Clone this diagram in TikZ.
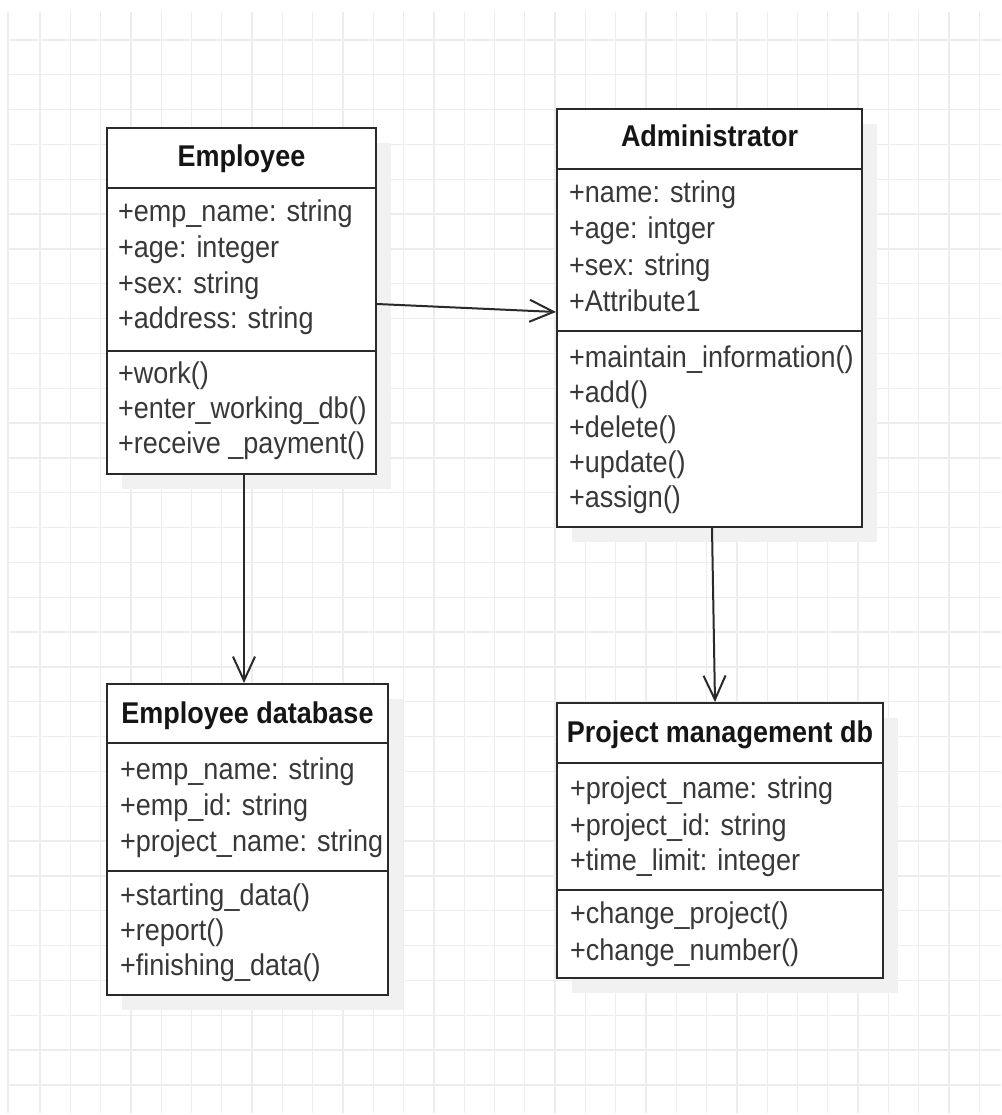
\documentclass[tikz,border=0pt]{standalone}
\usepackage{fontspec}
\setmainfont[FakeStretch=0.9]{Liberation Sans}
\usetikzlibrary{arrows.meta}
\definecolor{linec}{HTML}{2A2A2A}
\definecolor{textc}{HTML}{383838}
\definecolor{titlec}{HTML}{151515}
\definecolor{gridc}{HTML}{EDEDED}
\definecolor{shadc}{HTML}{F1F1F1}
\tikzset{
  classbox/.style={draw=linec, line width=2pt, fill=white, rectangle, inner sep=0pt},
  sepline/.style={draw=linec, line width=2pt},
  attr/.style={anchor=base west, inner sep=0pt, text=textc, font=\fontsize{30pt}{36pt}\selectfont},
  ctitle/.style={anchor=base, inner sep=0pt, text=titlec, font=\fontsize{30pt}{36pt}\selectfont\bfseries},
  gridline/.style={draw=gridc, line width=1.3pt},
  shadow/.style={fill=shadc},
  arr/.style={draw=linec, line width=2pt, -{Straight Barb[length=24pt,width=22pt,line width=2pt]}}
}
\begin{document}
\begin{tikzpicture}[x=1pt,y=-1pt]
\useasboundingbox (0,0) rectangle (1001,1115);
\fill[white] (0,0) rectangle (1001,1115);
% grid
\foreach \k in {0,...,31} {\draw[gridline] ({40+30.3*\k},12) -- ({40+30.3*\k},1113);}
\draw[gridline] (8,12) -- (8,1113);
\foreach \k in {0,...,30} {\draw[gridline] (8,{40+34.83*\k}) -- (1001,{40+34.83*\k});}
% shadows
\fill[shadow] (122,143) rectangle (391,489);
\fill[shadow] (572,124) rectangle (877,542);
\fill[shadow] (122,699) rectangle (403,1010);
\fill[shadow] (572,718) rectangle (898,993);

% Employee
\node[classbox, minimum width=269pt, minimum height=346pt] (emp) at (241.5,301) {};
\draw[sepline] (emp.west |- 0,188) -- (emp.east |- 0,188);
\draw[sepline] (emp.west |- 0,351) -- (emp.east |- 0,351);
\node[ctitle] (empT) at (241.5,167) {Employee};
\node[attr] (empA1) at (118,222) {+emp\_name: string};
\node[attr] (empA2) at (118,257) {+age: integer};
\node[attr] (empA3) at (118,293) {+sex: string};
\node[attr] (empA4) at (118,328) {+address: string};
\node[attr] (empM1) at (118,383) {+work()};
\node[attr] (empM2) at (118,418) {+enter\_working\_db()};
\node[attr] (empM3) at (118,453) {+receive \_payment()};

% Administrator
\node[classbox, minimum width=305pt, minimum height=418pt] (adm) at (709.5,318) {};
\draw[sepline] (adm.west |- 0,169) -- (adm.east |- 0,169);
\draw[sepline] (adm.west |- 0,331) -- (adm.east |- 0,331);
\node[ctitle] (admT) at (709.5,147) {Administrator};
\node[attr] (admA1) at (569,203) {+name: string};
\node[attr] (admA2) at (569,239) {+age: intger};
\node[attr] (admA3) at (569,275) {+sex: string};
\node[attr] (admA4) at (569,311) {+Attribute1};
\node[attr] (admM1) at (569,367) {+maintain\_information()};
\node[attr] (admM2) at (569,402) {+add()};
\node[attr] (admM3) at (569,437) {+delete()};
\node[attr] (admM4) at (569,472) {+update()};
\node[attr] (admM5) at (569,507) {+assign()};

% Employee database
\node[classbox, minimum width=281pt, minimum height=311pt] (edb) at (247.5,839.5) {};
\draw[sepline] (edb.west |- 0,743) -- (edb.east |- 0,743);
\draw[sepline] (edb.west |- 0,871) -- (edb.east |- 0,871);
\node[ctitle] (edbT) at (247.5,723) {Employee database};
\node[attr] (edbA1) at (120,779) {+emp\_name: string};
\node[attr] (edbA2) at (120,815) {+emp\_id: string};
\node[attr] (edbA3) at (120,851) {+project\_name: string};
\node[attr] (edbM1) at (120,905) {+starting\_data()};
\node[attr] (edbM2) at (120,940) {+report()};
\node[attr] (edbM3) at (120,975) {+finishing\_data()};

% Project management db
\node[classbox, minimum width=326pt, minimum height=275pt] (pmd) at (720,840.5) {};
\draw[sepline] (pmd.west |- 0,763) -- (pmd.east |- 0,763);
\draw[sepline] (pmd.west |- 0,890) -- (pmd.east |- 0,890);
\node[ctitle] (pmdT) at (720,742) {Project management db};
\node[attr] (pmdA1) at (570,798) {+project\_name: string};
\node[attr] (pmdA2) at (570,835) {+project\_id: string};
\node[attr] (pmdA3) at (570,870) {+time\_limit: integer};
\node[attr] (pmdM1) at (570,923) {+change\_project()};
\node[attr] (pmdM2) at (570,960) {+change\_number()};

% connectors
\draw[arr] ([yshift=-3pt]emp.east) -- ([yshift=6pt]adm.west);
\draw[arr] ([xshift=2.5pt]emp.south) -- ([xshift=-3.5pt]edb.north);
\draw[arr] ([xshift=2.5pt]adm.south) -- ([xshift=-5pt]pmd.north);
\end{tikzpicture}
\end{document}
